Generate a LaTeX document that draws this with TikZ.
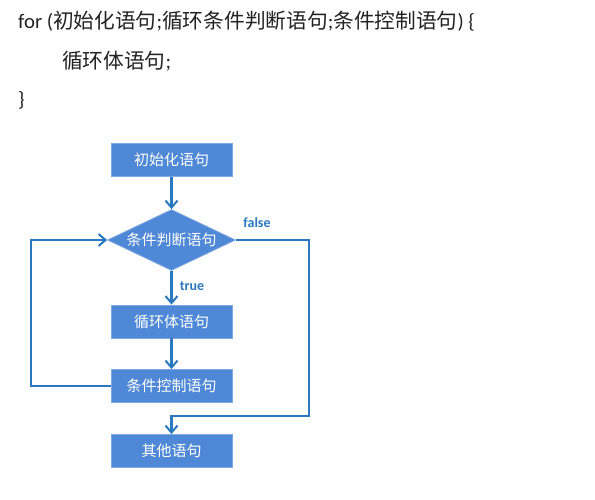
\documentclass[tikz,border=0pt]{standalone}
\usepackage{fontspec}
\setmainfont{Carlito}
\newfontfamily\cjk{Noto Sans CJK SC}
\usetikzlibrary{shapes.geometric,arrows.meta}
\definecolor{boxfill}{HTML}{4F88D6}
\definecolor{boxedge}{HTML}{7EA9E2}
\definecolor{linec}{HTML}{2A78C0}
\definecolor{codec}{HTML}{222222}
\newcommand{\zh}[1]{{\cjk #1}}
\tikzset{
  box/.style={rectangle, fill=boxfill, draw=boxedge, line width=0.8pt, minimum width=121pt, minimum height=33pt, inner sep=0pt, text=white, font=\cjk\fontsize{15}{17}\selectfont},
  dia/.style={diamond, fill=boxfill, draw=boxedge, line width=0.8pt, minimum width=128pt, minimum height=61pt, inner sep=0pt, text=white, font=\cjk\fontsize{15}{17}\selectfont},
  arr/.style={draw=linec, line width=2.1pt, -{Straight Barb[length=7pt,width=12pt,line width=2pt]}},
  lbl/.style={text=linec, font=\bfseries\fontsize{14}{16}\selectfont, inner sep=0pt},
  code/.style={anchor=west, inner sep=0pt, text=codec, font=\fontsize{20.7}{23}\selectfont}
}
\begin{document}
\begin{tikzpicture}[x=1pt,y=-1pt]
\useasboundingbox (0,0) rectangle (595,500);
\node[code] (l1) at (18,21) {for (\zh{初始化语句};\zh{循环条件判断语句};\zh{条件控制语句}) \{};
\node[code] (l2) at (62,61) {\zh{循环体语句};};
\node[code] (l3) at (18,100) {\}};
\node[box] (b1) at (171.5,160) {初始化语句};
\node[dia] (d) at (171.5,240) {\makebox[0pt]{条件判断语句}};
\node[box] (b2) at (171.5,321.5) {循环体语句};
\node[box] (b3) at (171.5,386) {条件控制语句};
\node[box] (b4) at (171.5,451) {其他语句};
\coordinate (cl) at (31,386);
\coordinate (cf) at (309,416);
\draw[arr] (b1) -- (d);
\draw[arr] (d) -- (b2);
\draw[arr] (b2) -- (b3);
\draw[arr] (b3.west) -- (cl) |- (d.west);
\draw[arr] (d.east) -| (cf) -| (b4.north);
\node[lbl] (tf) at (257,223) {false};
\node[lbl] (tt) at (192,286) {true};
\end{tikzpicture}
\end{document}
